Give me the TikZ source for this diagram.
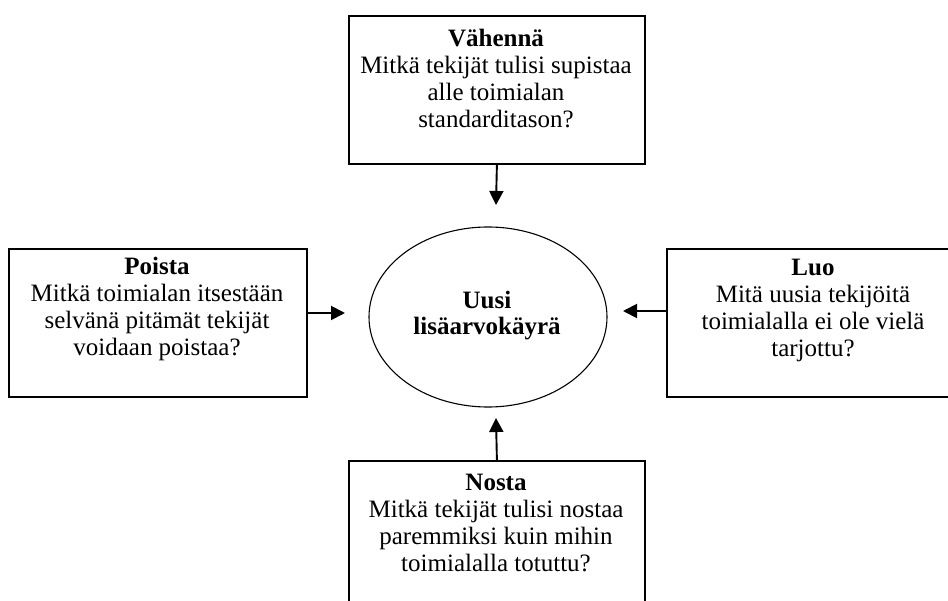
\documentclass[tikz,border=0pt]{standalone}
\usepackage{fontspec}
\setmainfont{Liberation Serif}
\usetikzlibrary{shapes.geometric,arrows.meta}
\begin{document}
\begin{tikzpicture}[x=1pt,y=-1pt,
  frame/.style={draw,line width=1.8pt,anchor=north west,inner sep=0pt},
  txt/.style={align=center,anchor=base,inner sep=0pt,font=\fontsize{25}{27}\selectfont},
  boldtxt/.style={txt,font=\fontsize{25}{26}\selectfont\bfseries},
  link/.style={line width=1.9pt,-{Triangle[length=14pt,width=14pt]}}]
\useasboundingbox (0,0) rectangle (948,601);
\clip (0,0) rectangle (948,601);
\fill[white] (0,0) rectangle (948,601);

% four question boxes
\node[frame,minimum width=296pt,minimum height=148pt] (topbox) at (348,15) {};
\node[frame,minimum width=298pt,minimum height=148pt] (leftbox) at (8,248) {};
\node[frame,minimum width=300pt,minimum height=148pt] (rightbox) at (666,248) {};
\node[frame,minimum width=296pt,minimum height=200pt] (botbox) at (348,460) {};

% box texts, placed by the baseline of their last line
\node[txt] (toptext) at (496,128) {\textbf{Vähennä}\\Mitkä tekijät tulisi supistaa\\alle toimialan\\standarditason?};
\node[txt] (lefttext) at (157,356) {\textbf{Poista}\\Mitkä toimialan itsestään\\selvänä pitämät tekijät\\voidaan poistaa?};
\node[txt] (righttext) at (813,357) {\textbf{Luo}\\Mitä uusia tekijöitä\\toimialalla ei ole vielä\\tarjottu?};
\node[txt] (bottext) at (496,571) {\textbf{Nosta}\\Mitkä tekijät tulisi nostaa\\paremmiksi kuin mihin\\toimialalla totuttu?};

% central ellipse
\node[draw,ellipse,line width=1.1pt,minimum width=238pt,minimum height=180pt,inner sep=0pt] (core) at (488,317) {};
\node[boldtxt] (coretext) at (487,335) {Uusi\\lisäarvokäyrä};

% arrows towards the ellipse
\coordinate (tipN) at (496,205);
\coordinate (tipS) at (496,418);
\coordinate (tipW) at (345,313);
\coordinate (tipE) at (623,311);
\draw[link] (topbox.south) -- (tipN);
\draw[link] (botbox.north) -- (tipS);
\draw[link] (leftbox.east |- tipW) -- (tipW);
\draw[link] (rightbox.west |- tipE) -- (tipE);
\end{tikzpicture}
\end{document}
